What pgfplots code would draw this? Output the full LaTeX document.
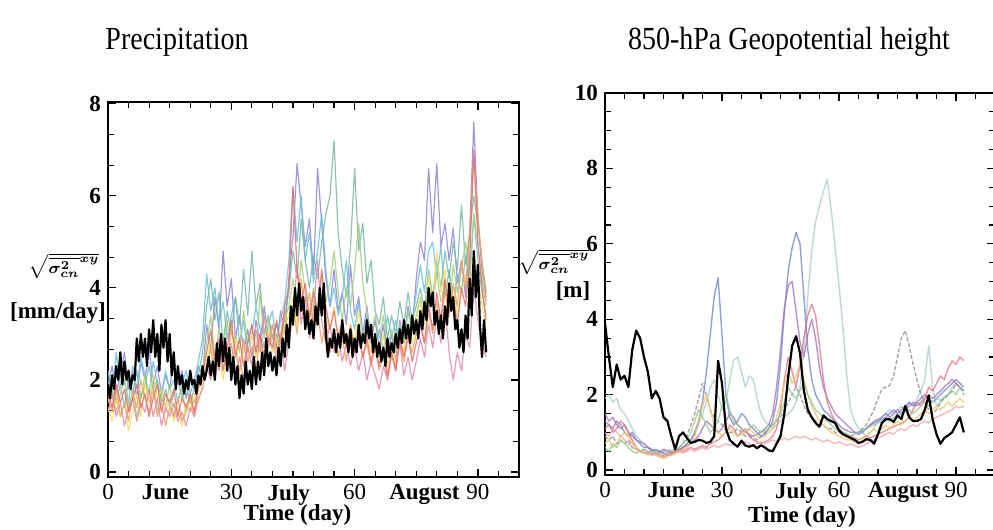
\documentclass[border=0pt]{standalone}
\usepackage{fontspec}
\setmainfont{Liberation Serif}
\usepackage{graphicx}
\usepackage{pgfplots}
\pgfplotsset{compat=1.18}
\definecolor{cA}{HTML}{8E86DA}
\definecolor{cB}{HTML}{6CC2DA}
\definecolor{cC}{HTML}{7BB8A6}
\definecolor{cD}{HTML}{A4D07E}
\definecolor{cE}{HTML}{F2DE62}
\definecolor{cF}{HTML}{F2A460}
\definecolor{cG}{HTML}{E48AAA}
\definecolor{cH}{HTML}{E86E6E}
\definecolor{r1}{HTML}{A8CACE}
\definecolor{r2}{HTML}{8A8A8A}
\definecolor{r3}{HTML}{6F7FD0}
\definecolor{r4}{HTML}{A070B8}
\definecolor{r5}{HTML}{E07080}
\definecolor{r6}{HTML}{F0A0A0}
\definecolor{r7}{HTML}{F0C060}
\definecolor{r8}{HTML}{90C890}
\begin{document}
\begin{tikzpicture}
\useasboundingbox (0,0) rectangle (496.5pt,265pt);
\pgfplotsset{
  panel/.style={
    scale only axis, anchor=south west,
    xmin=0, xmax=100,
    xtick={0,30,60,90},
    minor xtick={5,10,...,100},
    extra x tick labels={June,July,August},
    extra x tick style={major tick length=0pt, xticklabel style={font=\fontsize{11.5}{12}\selectfont\bfseries}},
    /pgf/number format/assume math mode=true,
    xticklabel style={font=\fontsize{11.5}{12}\selectfont},
    yticklabel style={font=\fontsize{11.5}{12}\selectfont\bfseries},
    major tick length=4pt, minor tick length=3pt,
    axis line style={line width=0.7pt},
    every tick/.style={black, line width=0.6pt},
    every axis plot/.append style={line join=round},
  },
  lc/.style={color=#1, line width=0.6pt, opacity=0.85},
  rc/.style={color=#1, line width=0.7pt, opacity=0.75},
}
% ---------------- Left panel: Precipitation ----------------
\begin{axis}[panel, at={(54pt,26.5pt)}, width=205.5pt, height=187.5pt,
  extra x ticks={14,44,77},
  ymin=-0.11, ymax=8.04, ytick={0,2,4,6,8}, minor y tick num=2]
\addplot[lc=cA] coordinates {(0,1.9)(1,2.3)(2,1.7)(3,2.1)(4,2.6)(5,1.8)(6,2.2)(7,1.6)(8,2.4)(9,2.0)(10,2.7)(11,1.9)(12,2.3)(13,1.7)(14,2.1)(15,1.8)(16,2.5)(17,1.9)(18,2.2)(19,1.6)(20,2.0)(21,1.8)(22,2.3)(23,2.1)(24,3.2)(25,2.6)(26,3.8)(27,3.1)(28,4.8)(29,3.6)(30,4.2)(31,2.9)(32,3.4)(33,2.6)(34,3.1)(35,2.5)(36,3.3)(37,2.8)(38,3.6)(39,2.9)(40,3.2)(41,2.7)(42,3.5)(43,3.0)(44,4.2)(45,5.1)(46,6.7)(47,5.8)(48,4.9)(49,5.5)(50,4.3)(51,6.6)(52,5.4)(53,4.2)(54,3.6)(55,4.4)(56,3.5)(57,3.9)(58,3.2)(59,4.5)(60,3.4)(61,3.8)(62,3.0)(63,3.6)(64,2.8)(65,3.3)(66,2.7)(67,3.2)(68,2.5)(69,3.0)(70,2.4)(71,3.3)(72,2.8)(73,3.6)(74,3.1)(75,4.2)(76,5.0)(77,4.6)(78,6.6)(79,5.2)(80,6.7)(81,4.9)(82,5.4)(83,4.6)(84,5.3)(85,4.1)(86,4.6)(87,3.8)(88,5.2)(89,7.6)(90,5.5)(91,4.4)(92,3.8)};
\addplot[lc=cB] coordinates {(0,2.2)(1,1.6)(2,2.6)(3,1.9)(4,2.0)(5,1.5)(6,2.3)(7,1.8)(8,2.5)(9,2.1)(10,1.7)(11,2.4)(12,1.9)(13,1.6)(14,2.2)(15,1.8)(16,2.0)(17,1.5)(18,1.9)(19,2.2)(20,1.7)(21,2.0)(22,2.4)(23,2.9)(24,4.3)(25,3.5)(26,4.0)(27,3.2)(28,3.7)(29,2.9)(30,3.4)(31,3.8)(32,2.8)(33,3.3)(34,2.6)(35,3.0)(36,3.6)(37,3.1)(38,2.7)(39,3.2)(40,3.5)(41,2.8)(42,3.3)(43,3.7)(44,4.6)(45,6.2)(46,5.0)(47,6.0)(48,4.6)(49,5.2)(50,4.1)(51,4.8)(52,5.6)(53,4.4)(54,3.6)(55,4.0)(56,3.4)(57,3.8)(58,4.6)(59,3.5)(60,3.1)(61,3.7)(62,2.9)(63,3.4)(64,3.0)(65,2.7)(66,3.1)(67,2.6)(68,3.4)(69,2.9)(70,3.3)(71,2.7)(72,3.0)(73,3.5)(74,3.2)(75,3.9)(76,4.5)(77,3.9)(78,4.8)(79,5.0)(80,4.2)(81,4.9)(82,3.8)(83,4.4)(84,3.6)(85,4.3)(86,3.9)(87,4.7)(88,4.1)(89,5.6)(90,4.6)(91,3.9)(92,3.4)};
\addplot[lc=cC] coordinates {(0,1.8)(1,2.1)(2,1.5)(3,1.9)(4,1.4)(5,2.0)(6,1.7)(7,2.2)(8,1.6)(9,1.9)(10,2.3)(11,1.8)(12,2.0)(13,1.5)(14,1.8)(15,1.4)(16,1.7)(17,2.0)(18,1.6)(19,1.9)(20,1.5)(21,1.8)(22,2.1)(23,2.6)(24,3.6)(25,4.2)(26,3.3)(27,3.9)(28,2.8)(29,3.5)(30,3.0)(31,3.8)(32,3.2)(33,4.4)(34,3.4)(35,4.8)(36,3.6)(37,4.1)(38,3.0)(39,3.4)(40,2.9)(41,3.2)(42,2.8)(43,3.4)(44,3.9)(45,4.8)(46,4.2)(47,5.5)(48,4.6)(49,4.0)(50,4.7)(51,4.2)(52,5.0)(53,5.6)(54,6.0)(55,7.2)(56,5.2)(57,4.4)(58,3.8)(59,4.9)(60,6.6)(61,4.8)(62,5.4)(63,4.1)(64,4.6)(65,3.5)(66,3.2)(67,3.8)(68,2.9)(69,3.4)(70,3.0)(71,3.7)(72,3.2)(73,3.9)(74,3.3)(75,3.6)(76,4.0)(77,3.5)(78,4.4)(79,3.8)(80,4.6)(81,4.0)(82,4.8)(83,4.2)(84,5.0)(85,4.4)(86,5.8)(87,4.5)(88,5.2)(89,6.0)(90,5.4)(91,4.6)(92,3.9)};
\addplot[lc=cD] coordinates {(0,1.5)(1,1.9)(2,1.3)(3,1.7)(4,2.0)(5,1.4)(6,1.8)(7,1.2)(8,1.6)(9,2.1)(10,1.5)(11,1.9)(12,1.3)(13,1.7)(14,1.4)(15,1.9)(16,1.2)(17,1.6)(18,1.8)(19,1.3)(20,1.7)(21,1.5)(22,1.9)(23,2.2)(24,2.8)(25,3.4)(26,2.5)(27,3.1)(28,2.7)(29,3.3)(30,2.4)(31,3.0)(32,2.6)(33,3.5)(34,2.8)(35,3.2)(36,2.5)(37,3.9)(38,2.9)(39,3.4)(40,2.6)(41,3.0)(42,2.7)(43,3.3)(44,3.6)(45,4.2)(46,3.6)(47,4.6)(48,3.9)(49,3.4)(50,4.0)(51,3.5)(52,4.3)(53,3.7)(54,4.1)(55,4.8)(56,3.9)(57,3.3)(58,4.0)(59,3.6)(60,4.4)(61,5.4)(62,4.1)(63,3.5)(64,3.0)(65,3.4)(66,2.9)(67,3.4)(68,2.7)(69,3.1)(70,2.6)(71,3.2)(72,2.8)(73,3.5)(74,3.0)(75,3.4)(76,3.8)(77,3.3)(78,4.0)(79,3.6)(80,4.3)(81,3.7)(82,4.1)(83,3.5)(84,4.5)(85,3.9)(86,4.4)(87,5.0)(88,4.3)(89,5.6)(90,4.9)(91,4.2)(92,3.6)};
\addplot[lc=cE] coordinates {(0,1.4)(1,1.1)(2,1.6)(3,1.2)(4,1.5)(5,0.9)(6,1.3)(7,1.7)(8,1.2)(9,1.9)(10,1.5)(11,2.1)(12,1.6)(13,1.8)(14,1.3)(15,1.6)(16,1.1)(17,1.4)(18,1.0)(19,1.5)(20,1.3)(21,1.7)(22,1.5)(23,1.9)(24,2.4)(25,2.9)(26,2.2)(27,2.7)(28,2.0)(29,2.6)(30,2.3)(31,2.9)(32,2.1)(33,2.7)(34,2.4)(35,3.0)(36,2.5)(37,2.8)(38,2.3)(39,3.1)(40,2.6)(41,2.9)(42,2.4)(43,3.2)(44,3.4)(45,3.8)(46,3.2)(47,4.1)(48,3.5)(49,3.0)(50,3.7)(51,3.3)(52,4.0)(53,3.4)(54,3.1)(55,3.6)(56,2.9)(57,3.3)(58,2.7)(59,3.2)(60,2.8)(61,3.5)(62,2.9)(63,3.1)(64,2.6)(65,3.0)(66,2.5)(67,3.0)(68,2.3)(69,2.8)(70,2.4)(71,2.9)(72,2.6)(73,3.2)(74,2.8)(75,3.3)(76,3.7)(77,3.2)(78,4.3)(79,3.6)(80,4.8)(81,3.9)(82,4.4)(83,3.5)(84,4.0)(85,3.4)(86,3.9)(87,4.3)(88,3.8)(89,4.8)(90,4.2)(91,3.6)(92,3.2)};
\addplot[lc=cF] coordinates {(0,1.6)(1,1.3)(2,1.8)(3,1.2)(4,1.5)(5,1.1)(6,1.7)(7,1.4)(8,2.0)(9,1.6)(10,1.3)(11,1.8)(12,1.2)(13,1.5)(14,1.0)(15,1.4)(16,1.2)(17,1.6)(18,1.1)(19,1.3)(20,1.6)(21,1.2)(22,1.8)(23,2.0)(24,2.2)(25,2.7)(26,2.0)(27,2.5)(28,2.8)(29,2.3)(30,3.1)(31,2.6)(32,2.2)(33,2.9)(34,2.4)(35,2.7)(36,2.1)(37,3.0)(38,2.5)(39,2.8)(40,3.2)(41,2.6)(42,3.0)(43,3.5)(44,2.9)(45,3.6)(46,3.0)(47,4.2)(48,3.4)(49,3.9)(50,3.1)(51,3.5)(52,2.8)(53,3.3)(54,2.6)(55,3.1)(56,2.5)(57,2.9)(58,2.4)(59,3.2)(60,2.7)(61,3.0)(62,2.5)(63,2.8)(64,2.3)(65,2.7)(66,2.2)(67,2.6)(68,2.0)(69,2.5)(70,2.3)(71,2.8)(72,2.4)(73,2.9)(74,2.6)(75,3.0)(76,3.3)(77,2.8)(78,3.5)(79,3.0)(80,3.7)(81,3.2)(82,3.9)(83,3.4)(84,4.1)(85,3.6)(86,4.6)(87,4.0)(88,5.2)(89,6.8)(90,5.6)(91,4.5)(92,3.7)};
\addplot[lc=cG] coordinates {(0,1.3)(1,1.7)(2,1.2)(3,1.5)(4,1.0)(5,1.4)(6,1.6)(7,1.1)(8,1.5)(9,1.3)(10,1.8)(11,1.2)(12,1.6)(13,1.0)(14,1.4)(15,1.2)(16,1.5)(17,1.1)(18,1.3)(19,1.0)(20,1.4)(21,1.2)(22,1.6)(23,1.8)(24,2.3)(25,2.0)(26,2.6)(27,2.2)(28,2.9)(29,2.4)(30,2.8)(31,2.1)(32,2.5)(33,2.0)(34,2.7)(35,2.3)(36,3.1)(37,2.6)(38,3.4)(39,2.7)(40,3.0)(41,2.4)(42,2.9)(43,2.2)(44,2.8)(45,3.4)(46,4.5)(47,3.2)(48,3.8)(49,2.9)(50,3.5)(51,4.6)(52,3.3)(53,2.8)(54,3.2)(55,2.6)(56,3.0)(57,2.4)(58,2.8)(59,2.3)(60,2.7)(61,2.2)(62,2.6)(63,2.0)(64,2.4)(65,2.1)(66,1.8)(67,2.3)(68,2.0)(69,2.6)(70,2.2)(71,2.8)(72,2.1)(73,2.5)(74,2.0)(75,2.4)(76,2.9)(77,2.5)(78,3.2)(79,2.7)(80,3.4)(81,2.8)(82,3.6)(83,2.6)(84,2.0)(85,2.6)(86,2.2)(87,3.0)(88,2.7)(89,4.0)(90,3.3)(91,2.8)(92,2.5)};
\addplot[lc=cH] coordinates {(0,1.7)(1,1.4)(2,1.9)(3,1.5)(4,1.8)(5,1.3)(6,1.6)(7,1.9)(8,1.4)(9,1.7)(10,1.2)(11,1.6)(12,1.9)(13,1.3)(14,1.7)(15,1.5)(16,1.8)(17,1.2)(18,1.6)(19,1.4)(20,1.7)(21,1.3)(22,1.9)(23,2.1)(24,2.6)(25,3.1)(26,2.4)(27,2.9)(28,2.2)(29,2.7)(30,3.3)(31,2.5)(32,2.9)(33,2.3)(34,2.8)(35,3.2)(36,2.6)(37,3.0)(38,2.4)(39,2.9)(40,2.7)(41,3.3)(42,2.8)(43,3.6)(44,4.0)(45,6.2)(46,4.4)(47,3.7)(48,4.1)(49,3.3)(50,3.9)(51,3.4)(52,4.4)(53,3.6)(54,3.1)(55,3.5)(56,2.9)(57,3.3)(58,2.7)(59,3.1)(60,2.6)(61,3.0)(62,2.5)(63,2.9)(64,2.4)(65,2.8)(66,2.3)(67,2.7)(68,2.1)(69,2.6)(70,2.2)(71,2.9)(72,2.5)(73,3.0)(74,2.4)(75,2.8)(76,3.2)(77,2.8)(78,3.6)(79,3.1)(80,3.9)(81,3.3)(82,4.2)(83,3.5)(84,3.8)(85,3.2)(86,4.0)(87,3.6)(88,4.6)(89,7.0)(90,5.0)(91,4.0)(92,3.3)};
\addplot[black, line width=1.1pt] coordinates {(0,1.9)(0.5,1.6)(1,2.1)(1.5,1.8)(2,2.3)(2.5,2.0)(3,2.6)(3.5,1.9)(4,2.4)(4.5,2.0)(5,2.2)(5.5,1.8)(6,2.1)(6.5,2.0)(7,2.9)(7.5,2.4)(8,3.0)(8.5,2.5)(9,2.9)(9.5,2.3)(10,3.1)(10.5,2.6)(11,3.3)(11.5,2.5)(12,3.0)(12.5,2.2)(13,3.2)(13.5,2.7)(14,3.3)(14.5,2.4)(15,3.0)(15.5,2.1)(16,2.6)(16.5,1.8)(17,2.3)(17.5,1.9)(18,2.1)(18.5,1.7)(19,2.0)(19.5,1.8)(20,2.2)(20.5,1.9)(21,2.0)(21.5,1.7)(22,2.1)(22.5,1.9)(23,2.3)(23.5,2.0)(24,2.2)(24.5,2.5)(25,2.1)(25.5,2.4)(26,2.0)(26.5,2.8)(27,2.3)(27.5,3.0)(28,2.4)(28.5,2.9)(29,2.2)(29.5,2.7)(30,2.0)(30.5,2.5)(31,1.9)(31.5,2.3)(32,1.6)(32.5,2.1)(33,1.7)(33.5,2.4)(34,1.9)(34.5,2.2)(35,1.8)(35.5,2.5)(36,1.9)(36.5,2.4)(37,2.0)(37.5,2.6)(38,2.1)(38.5,2.9)(39,2.3)(39.5,2.6)(40,2.2)(40.5,2.5)(41,2.1)(41.5,2.7)(42,2.3)(42.5,2.9)(43,2.5)(43.5,3.2)(44,2.7)(44.5,3.6)(45,3.2)(45.5,4.0)(46,3.4)(46.5,4.1)(47,3.5)(47.5,3.8)(48,3.1)(48.5,3.5)(49,3.0)(49.5,3.3)(50,2.9)(50.5,3.6)(51,3.2)(51.5,4.0)(52,3.4)(52.5,4.1)(53,3.0)(53.5,2.5)(54,2.9)(54.5,2.7)(55,3.1)(55.5,2.6)(56,3.0)(56.5,2.7)(57,3.3)(57.5,2.8)(58,3.0)(58.5,2.6)(59,3.1)(59.5,2.5)(60,2.9)(60.5,2.6)(61,3.2)(61.5,2.7)(62,3.0)(62.5,2.8)(63,3.3)(63.5,2.9)(64,3.2)(64.5,2.6)(65,3.0)(65.5,2.5)(66,2.8)(66.5,2.4)(67,2.7)(67.5,2.3)(68,2.9)(68.5,2.5)(69,2.8)(69.5,2.6)(70,3.0)(70.5,2.7)(71,3.1)(71.5,2.8)(72,3.3)(72.5,2.9)(73,3.2)(73.5,2.8)(74,3.4)(74.5,3.0)(75,3.3)(75.5,2.9)(76,3.5)(76.5,3.1)(77,3.7)(77.5,3.3)(78,4.0)(78.5,3.6)(79,3.9)(79.5,3.2)(80,3.5)(80.5,3.0)(81,3.4)(81.5,2.9)(82,3.6)(82.5,3.2)(83,4.1)(83.5,3.5)(84,3.8)(84.5,3.1)(85,3.3)(85.5,2.7)(86,3.1)(86.5,2.6)(87,3.4)(87.5,2.9)(88,4.2)(88.5,3.4)(89,4.8)(89.5,3.8)(90,4.5)(90.5,3.2)(91,2.5)(91.5,3.3)(92,2.6)};
\end{axis}
% ---------------- Right panel: 850-hPa Geopotential height ----------------
\begin{axis}[panel, at={(302.5pt,27.5pt)}, width=195pt, height=191pt,
  extra x ticks={17,49,76.5},
  ymin=-0.13, ymax=10, ytick={0,2,4,6,8,10}, minor y tick num=3]
\addplot[rc=r1] coordinates {(0,1.9)(1,2.0)(2,1.8)(3,1.9)(4,1.6)(5,1.5)(6,1.3)(7,1.1)(8,0.9)(9,0.8)(10,0.7)(11,0.6)(12,0.55)(13,0.5)(14,0.5)(15,0.45)(16,0.45)(17,0.5)(18,0.5)(19,0.55)(20,0.6)(21,0.7)(22,0.8)(23,0.95)(24,1.2)(25,1.5)(26,1.8)(27,2.2)(28,2.4)(29,2.0)(30,1.6)(31,1.8)(32,2.4)(33,2.9)(34,3.0)(35,2.6)(36,2.2)(37,2.5)(38,2.4)(39,1.9)(40,1.5)(41,1.3)(42,1.2)(43,1.1)(44,1.2)(45,1.3)(46,1.4)(47,1.5)(48,1.6)(49,1.8)(50,2.2)(51,3.2)(52,4.6)(53,5.8)(54,6.6)(55,7.0)(56,7.4)(57,7.7)(58,6.9)(59,5.9)(60,4.9)(61,3.8)(62,2.5)(63,1.6)(64,1.3)(65,1.1)(66,1.0)(67,0.9)(68,1.0)(69,1.1)(70,1.3)(71,1.4)(72,1.5)(73,1.6)(74,1.5)(75,1.6)(76,1.7)(77,1.6)(78,1.8)(79,1.7)(80,1.9)(81,2.1)(82,2.4)(83,3.3)(84,2.2)(85,1.7)(86,1.8)(87,1.9)(88,2.0)(89,2.2)(90,2.3)(91,2.2)(92,2.1)};
\addplot[rc=r2, dash pattern=on 2pt off 1pt] coordinates {(0,0.9)(1,0.8)(2,0.9)(3,0.7)(4,0.8)(5,0.7)(6,0.8)(7,0.6)(8,0.55)(9,0.5)(10,0.55)(11,0.5)(12,0.45)(13,0.5)(14,0.45)(15,0.5)(16,0.55)(17,0.5)(18,0.55)(19,0.6)(20,0.7)(21,0.9)(22,1.2)(23,1.5)(24,1.9)(25,2.3)(26,2.0)(27,1.6)(28,1.4)(29,1.3)(30,1.2)(31,1.1)(32,1.0)(33,1.0)(34,1.1)(35,1.0)(36,0.9)(37,0.9)(38,0.85)(39,0.8)(40,0.9)(41,1.0)(42,1.1)(43,1.2)(44,1.3)(45,1.4)(46,1.6)(47,1.8)(48,2.0)(49,2.2)(50,2.0)(51,1.7)(52,1.5)(53,1.4)(54,1.3)(55,1.2)(56,1.2)(57,1.1)(58,1.1)(59,1.0)(60,1.0)(61,0.95)(62,0.9)(63,0.9)(64,0.95)(65,1.0)(66,1.1)(67,1.2)(68,1.4)(69,1.6)(70,1.9)(71,2.15)(72,2.2)(73,2.25)(74,2.5)(75,3.0)(76,3.5)(77,3.7)(78,3.3)(79,2.8)(80,2.4)(81,2.0)(82,1.8)(83,1.6)(84,1.5)(85,1.6)(86,1.8)(87,1.9)(88,2.0)(89,2.1)(90,2.3)(91,2.2)(92,2.0)};
\addplot[rc=r3] coordinates {(0,1.3)(1,1.2)(2,1.1)(3,1.3)(4,1.2)(5,1.0)(6,0.9)(7,1.0)(8,0.8)(9,0.7)(10,0.6)(11,0.6)(12,0.5)(13,0.55)(14,0.5)(15,0.45)(16,0.4)(17,0.4)(18,0.45)(19,0.5)(20,0.6)(21,0.7)(22,0.8)(23,1.0)(24,1.3)(25,1.8)(26,2.6)(27,3.6)(28,4.6)(29,5.1)(30,3.6)(31,2.0)(32,1.4)(33,1.2)(34,1.3)(35,1.5)(36,1.4)(37,1.2)(38,1.1)(39,1.0)(40,0.9)(41,0.95)(42,1.1)(43,1.3)(44,1.8)(45,2.8)(46,4.2)(47,5.3)(48,5.9)(49,6.3)(50,6.0)(51,4.6)(52,3.2)(53,2.4)(54,2.0)(55,1.8)(56,1.6)(57,1.5)(58,1.4)(59,1.3)(60,1.2)(61,1.1)(62,1.05)(63,1.0)(64,1.0)(65,0.95)(66,1.0)(67,1.1)(68,1.2)(69,1.25)(70,1.3)(71,1.35)(72,1.4)(73,1.5)(74,1.6)(75,1.5)(76,1.6)(77,1.7)(78,1.8)(79,1.7)(80,1.8)(81,1.9)(82,2.0)(83,1.9)(84,1.8)(85,1.9)(86,2.0)(87,2.1)(88,2.2)(89,2.3)(90,2.4)(91,2.3)(92,2.2)};
\addplot[rc=r4] coordinates {(0,1.5)(1,1.3)(2,1.4)(3,1.2)(4,1.1)(5,1.2)(6,1.0)(7,0.9)(8,0.8)(9,0.75)(10,0.7)(11,0.6)(12,0.55)(13,0.5)(14,0.5)(15,0.55)(16,0.5)(17,0.45)(18,0.5)(19,0.55)(20,0.6)(21,0.65)(22,0.7)(23,0.8)(24,0.9)(25,1.1)(26,1.3)(27,1.2)(28,1.1)(29,1.0)(30,1.1)(31,1.3)(32,1.5)(33,1.4)(34,1.2)(35,1.1)(36,1.0)(37,0.95)(38,0.9)(39,0.95)(40,1.0)(41,1.1)(42,1.2)(43,1.5)(44,2.2)(45,3.2)(46,4.3)(47,4.9)(48,5.0)(49,4.2)(50,3.4)(51,3.0)(52,3.6)(53,4.0)(54,3.5)(55,2.7)(56,2.2)(57,1.9)(58,1.7)(59,1.5)(60,1.4)(61,1.3)(62,1.2)(63,1.1)(64,1.0)(65,1.0)(66,1.05)(67,1.1)(68,1.2)(69,1.3)(70,1.35)(71,1.4)(72,1.5)(73,1.4)(74,1.5)(75,1.6)(76,1.5)(77,1.6)(78,1.7)(79,1.8)(80,1.7)(81,1.8)(82,1.9)(83,2.0)(84,1.9)(85,2.0)(86,2.1)(87,2.2)(88,2.3)(89,2.4)(90,2.3)(91,2.2)(92,2.1)};
\addplot[rc=r5] coordinates {(0,1.1)(1,1.2)(2,1.0)(3,1.1)(4,1.3)(5,1.2)(6,1.0)(7,0.8)(8,0.6)(9,0.5)(10,0.45)(11,0.45)(12,0.4)(13,0.45)(14,0.4)(15,0.35)(16,0.4)(17,0.45)(18,0.5)(19,0.55)(20,0.5)(21,0.55)(22,0.6)(23,0.55)(24,0.6)(25,0.65)(26,0.6)(27,0.7)(28,0.75)(29,0.8)(30,0.9)(31,1.0)(32,1.2)(33,1.1)(34,0.9)(35,1.0)(36,1.1)(37,0.9)(38,0.8)(39,0.75)(40,0.7)(41,0.75)(42,0.8)(43,0.9)(44,1.1)(45,1.6)(46,2.4)(47,3.0)(48,2.6)(49,2.2)(50,2.8)(51,3.5)(52,4.1)(53,4.4)(54,4.1)(55,3.3)(56,2.4)(57,1.8)(58,1.5)(59,1.3)(60,1.1)(61,1.0)(62,0.95)(63,0.9)(64,0.85)(65,0.8)(66,0.85)(67,0.9)(68,0.85)(69,0.9)(70,0.95)(71,1.0)(72,1.05)(73,1.1)(74,1.15)(75,1.2)(76,1.25)(77,1.3)(78,1.4)(79,1.6)(80,1.8)(81,1.7)(82,1.9)(83,2.2)(84,2.1)(85,2.3)(86,2.5)(87,2.4)(88,2.7)(89,2.9)(90,2.8)(91,3.0)(92,2.9)};
\addplot[rc=r6] coordinates {(0,1.0)(1,0.9)(2,1.1)(3,1.0)(4,0.9)(5,0.8)(6,0.7)(7,0.6)(8,0.55)(9,0.5)(10,0.5)(11,0.45)(12,0.4)(13,0.4)(14,0.35)(15,0.4)(16,0.45)(17,0.4)(18,0.45)(19,0.5)(20,0.45)(21,0.5)(22,0.55)(23,0.5)(24,0.55)(25,0.6)(26,0.55)(27,0.6)(28,0.65)(29,0.6)(30,0.65)(31,0.7)(32,0.65)(33,0.7)(34,0.65)(35,0.7)(36,0.75)(37,0.7)(38,0.65)(39,0.7)(40,0.75)(41,0.7)(42,0.75)(43,0.8)(44,0.75)(45,0.8)(46,0.85)(47,0.8)(48,0.85)(49,0.9)(50,0.85)(51,0.9)(52,0.85)(53,0.8)(54,0.85)(55,0.8)(56,0.75)(57,0.8)(58,0.75)(59,0.7)(60,0.75)(61,0.7)(62,0.65)(63,0.7)(64,0.65)(65,0.6)(66,0.65)(67,0.7)(68,0.75)(69,0.8)(70,0.85)(71,0.9)(72,0.95)(73,1.0)(74,0.95)(75,1.05)(76,1.1)(77,1.05)(78,1.15)(79,1.2)(80,1.15)(81,1.25)(82,1.3)(83,1.25)(84,1.35)(85,1.4)(86,1.45)(87,1.5)(88,1.55)(89,1.6)(90,1.7)(91,1.65)(92,1.7)};
\addplot[rc=r7] coordinates {(0,0.7)(1,0.8)(2,0.6)(3,0.7)(4,0.9)(5,1.0)(6,0.9)(7,0.7)(8,0.6)(9,0.5)(10,0.45)(11,0.4)(12,0.45)(13,0.4)(14,0.35)(15,0.3)(16,0.35)(17,0.4)(18,0.45)(19,0.5)(20,0.55)(21,0.6)(22,0.7)(23,0.9)(24,1.3)(25,1.7)(26,2.0)(27,1.6)(28,1.2)(29,1.0)(30,0.9)(31,1.0)(32,1.1)(33,1.0)(34,0.9)(35,0.95)(36,1.0)(37,1.1)(38,1.0)(39,0.9)(40,0.85)(41,0.9)(42,1.0)(43,1.1)(44,1.4)(45,1.8)(46,2.3)(47,2.6)(48,2.3)(49,2.5)(50,2.8)(51,2.4)(52,2.0)(53,1.7)(54,1.5)(55,1.3)(56,1.2)(57,1.1)(58,1.0)(59,0.95)(60,0.9)(61,0.85)(62,0.8)(63,0.8)(64,0.75)(65,0.8)(66,0.85)(67,0.9)(68,1.0)(69,1.1)(70,1.0)(71,1.1)(72,1.2)(73,1.1)(74,1.2)(75,1.3)(76,1.2)(77,1.3)(78,1.4)(79,1.3)(80,1.4)(81,1.5)(82,1.6)(83,1.5)(84,1.6)(85,1.7)(86,1.6)(87,1.7)(88,1.8)(89,1.7)(90,1.8)(91,1.9)(92,1.8)};
\addplot[rc=r8] coordinates {(0,0.6)(1,0.5)(2,0.7)(3,0.6)(4,0.8)(5,0.7)(6,0.6)(7,0.5)(8,0.45)(9,0.5)(10,0.55)(11,0.5)(12,0.45)(13,0.5)(14,0.45)(15,0.4)(16,0.45)(17,0.5)(18,0.55)(19,0.6)(20,0.7)(21,0.8)(22,1.0)(23,1.3)(24,1.6)(25,1.4)(26,1.2)(27,1.0)(28,1.1)(29,1.3)(30,1.7)(31,2.0)(32,1.6)(33,1.3)(34,1.2)(35,1.1)(36,1.0)(37,1.1)(38,1.2)(39,1.1)(40,1.0)(41,1.05)(42,1.1)(43,1.2)(44,1.3)(45,1.5)(46,1.8)(47,2.2)(48,2.0)(49,1.9)(50,2.1)(51,2.3)(52,2.0)(53,1.8)(54,1.6)(55,1.5)(56,1.4)(57,1.3)(58,1.2)(59,1.1)(60,1.05)(61,1.0)(62,0.95)(63,0.9)(64,0.95)(65,1.0)(66,1.05)(67,1.1)(68,1.15)(69,1.2)(70,1.25)(71,1.3)(72,1.35)(73,1.3)(74,1.4)(75,1.5)(76,1.45)(77,1.55)(78,1.6)(79,1.5)(80,1.6)(81,1.7)(82,1.8)(83,1.7)(84,1.8)(85,1.9)(86,1.85)(87,1.95)(88,2.0)(89,2.1)(90,2.0)(91,2.2)(92,2.1)};
\addplot[black, line width=1.1pt] coordinates {(0,3.9)(1,3.0)(2,2.2)(3,2.8)(4,2.4)(5,2.5)(6,2.2)(7,3.2)(8,3.7)(9,3.5)(10,3.0)(11,2.6)(12,1.9)(13,2.1)(14,1.9)(15,1.4)(16,1.3)(17,0.9)(18,0.55)(19,0.9)(20,1.0)(21,0.85)(22,0.72)(23,0.75)(24,0.8)(25,0.78)(26,0.72)(27,0.75)(28,0.9)(29,2.9)(30,2.3)(31,1.1)(32,0.8)(33,0.7)(34,0.62)(35,0.78)(36,0.65)(37,0.62)(38,0.66)(39,0.58)(40,0.66)(41,0.6)(42,0.52)(43,0.5)(44,0.7)(45,0.9)(46,1.5)(47,2.5)(48,3.3)(49,3.55)(50,3.1)(51,2.1)(52,1.6)(53,1.4)(54,1.25)(55,1.15)(56,1.45)(57,1.35)(58,1.3)(59,1.25)(60,1.05)(61,0.95)(62,0.9)(63,0.85)(64,0.8)(65,0.72)(66,0.75)(67,0.82)(68,0.8)(69,0.7)(70,0.95)(71,1.25)(72,1.35)(73,1.35)(74,1.28)(75,1.45)(76,1.35)(77,1.7)(78,1.4)(79,1.3)(80,1.3)(81,1.35)(82,1.6)(83,1.98)(84,1.35)(85,0.95)(86,0.7)(87,0.85)(88,0.92)(89,1.0)(90,1.2)(91,1.4)(92,1.0)};
\end{axis}
% ---------------- Titles and labels ----------------
\node[font=\fontsize{14}{16}\selectfont] at (88.5pt,244pt) {\scalebox{1}[1.15]{Precipitation}};
\node[font=\fontsize{14}{16}\selectfont] at (394.5pt,244pt) {\scalebox{1}[1.15]{850-hPa Geopotential height}};
\node[font=\fontsize{11.5}{12}\selectfont\bfseries] at (148.75pt,7.5pt) {Time (day)};
\node[font=\fontsize{11.5}{12}\selectfont\bfseries] at (401pt,6.5pt) {Time (day)};
\node[font=\fontsize{8.5}{9}\selectfont\boldmath, inner sep=0pt] at (32pt,132pt) {$\sqrt{\overline{\sigma^{2}_{cn}}^{xy}}$};
\node[font=\fontsize{11.5}{12}\selectfont\bfseries, inner sep=0pt] at (29pt,108.5pt) {[mm/day]};
\node[font=\fontsize{8.5}{9}\selectfont\boldmath, inner sep=0pt] at (277pt,134pt) {$\sqrt{\overline{\sigma^{2}_{cn}}^{xy}}$};
\node[font=\fontsize{11.5}{12}\selectfont\bfseries, inner sep=0pt] at (286.5pt,119.5pt) {[m]};
\end{tikzpicture}
\end{document}
